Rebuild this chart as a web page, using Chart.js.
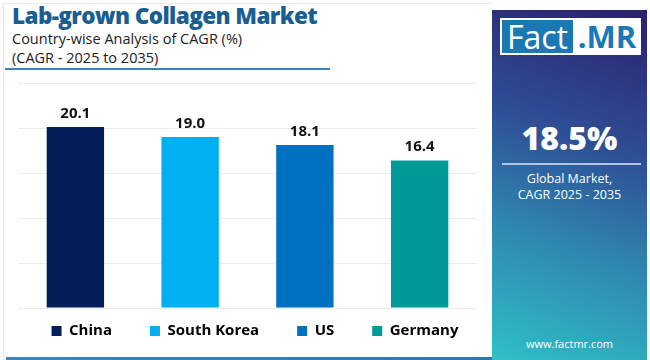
<!DOCTYPE html>
<html>
<head>
<meta charset="utf-8">
<script src="https://cdn.jsdelivr.net/npm/chart.js@4.4.1/dist/chart.umd.min.js"></script>
<style>
  html, body { margin:0; padding:0; background:#fff; }
  body { width:650px; height:360px; position:relative; overflow:hidden; font-family:"Open Sans", "DejaVu Sans", sans-serif; }
  #frame { position:absolute; left:3px; top:3px; width:489px; height:356px; border-left:1px solid #e6e6e6; border-top:1px solid #ececec; box-sizing:border-box; }
  #title { position:absolute; left:12px; top:0px; font-family:"Open Sans", sans-serif; font-weight:800; font-size:22.5px; color:#1b5d90; letter-spacing:-0.6px; white-space:nowrap; }
  #sub1 { position:absolute; left:12px; top:29px; font-size:14.5px; color:#222; white-space:nowrap; }
  #sub2 { position:absolute; left:12px; top:48px; font-size:14.5px; color:#222; white-space:nowrap; }
  #uline { position:absolute; left:5px; top:68px; width:325px; height:2px; background:#3f82b3; }
  #bline { position:absolute; left:6px; top:357px; width:486px; height:3px; background:linear-gradient(90deg,#3c86be,#2f78b4); }
  #wrap { position:absolute; left:0; top:0; width:510px; height:371px; }
  #panel { position:absolute; left:492px; top:10px; width:155px; height:350px;
    background:linear-gradient(20deg, #2fc0c6 0%, #2f86b0 35%, #2e4f96 62%, #2c1f6e 100%); }
  #logo { position:absolute; left:8px; top:8px; width:141px; height:37px; background:#fff; }
  #fact { position:absolute; left:2px; top:2px; width:71px; height:33px; background:#1a79b5; color:#fff; font-size:32px; line-height:33px; text-align:center; font-family:"Open Sans",sans-serif; }
  #mr { position:absolute; left:75px; top:2px; width:64px; height:33px; color:#1a79b5; font-size:31px; font-weight:700; line-height:33px; text-align:center; font-family:"Open Sans",sans-serif; }
  #big { position:absolute; left:0; width:155px; top:106px; text-align:center; color:#fff; font-weight:800; font-size:32px; font-family:"Open Sans",sans-serif; }
  #pline { position:absolute; left:10px; top:153px; width:139px; height:2px; background:rgba(200,215,240,0.85); }
  #glob { position:absolute; left:0; width:155px; top:161px; text-align:center; color:#fff; font-size:12.5px; line-height:16px; }
  #web { position:absolute; left:0; width:155px; top:326px; text-align:center; color:#fff; font-size:11px; }
</style>
</head>
<body>
<div id="frame"></div>
<div id="title">Lab-grown Collagen Market</div>
<div id="sub1">Country-wise Analysis of CAGR (%)</div>
<div id="sub2">(CAGR - 2025 to 2035)</div>
<div id="uline"></div>
<div id="wrap"><canvas id="c" width="510" height="371"></canvas></div>
<div id="bline"></div>
<div id="panel">
  <div id="logo"><div id="fact">Fact</div><div id="mr">.MR</div></div>
  <div id="big">18.5%</div>
  <div id="pline"></div>
  <div id="glob">Global Market,<br>CAGR 2025 - 2035</div>
  <div id="web">www.factmr.com</div>
</div>
<script>
const categories = ["China", "South Korea", "US", "Germany"];
const cagrValues = [20.1, 19.0, 18.1, 16.4];
const barColors = ["#041e5c", "#00b0f0", "#0070c0", "#009a99"];
const yTicks = [0, 5, 10, 15, 20, 25];

const LEGEND_PAD = 38;
const LEGEND_TEXT_Y = 331;

const valueLabels = {
  id: "valueLabels",
  afterDatasetsDraw(chart) {
    const ctx = chart.ctx;
    const meta = chart.getDatasetMeta(0);
    ctx.save();
    ctx.fillStyle = "#111";
    ctx.font = "bold 15px 'Open Sans', sans-serif";
    ctx.textAlign = "center";
    ctx.textBaseline = "bottom";
    meta.data.forEach((bar, i) => {
      ctx.fillText(cagrValues[i].toFixed(1), bar.x, bar.y - 6);
    });
    ctx.restore();
  }
};

// move legend row up so it sits just below the bars
const legendShift = {
  id: "legendShift",
  afterLayout(chart) {
    const l = chart.legend;
    if (!l) return;
    const wantTop = LEGEND_TEXT_Y - LEGEND_PAD - 7.5;
    const dy = l.top - wantTop;
    l.top -= dy; l.bottom -= dy;
  }
};

new Chart(document.getElementById("c"), {
  type: "bar",
  data: {
    labels: categories,
    datasets: [{
      data: cagrValues,
      backgroundColor: barColors,
      borderWidth: 0,
      categoryPercentage: 1.0,
      barPercentage: 0.5
    }]
  },
  options: {
    responsive: false,
    animation: false,
    layout: { padding: { left: 0, right: 0, top: 83, bottom: 0 } },
    scales: {
      x: { display: false },
      y: {
        min: 0, max: 25,
        afterBuildTicks: (s) => { s.ticks = yTicks.map(v => ({ value: v })); },
        afterFit: (s) => { s.width = 18; },
        ticks: { display: false },
        border: { display: false },
        grid: { color: "#ececec", lineWidth: 1, drawTicks: false }
      },
      yRight: {
        position: "right",
        min: 0, max: 25,
        afterFit: (s) => { s.width = 33; },
        ticks: { display: false },
        border: { display: false },
        grid: { display: false }
      }
    },
    plugins: {
      tooltip: { enabled: false },
      legend: {
        position: "bottom",
        labels: {
          boxWidth: 10, boxHeight: 10, padding: LEGEND_PAD,
          color: "#111",
          font: { family: "'Open Sans', sans-serif", size: 15, weight: "bold" },
          generateLabels: () => categories.map((c, i) => ({
            text: c, fillStyle: barColors[i], strokeStyle: barColors[i], lineWidth: 0, hidden: false, index: i
          }))
        }
      }
    }
  },
  plugins: [valueLabels, legendShift]
});
</script>
</body>
</html>
